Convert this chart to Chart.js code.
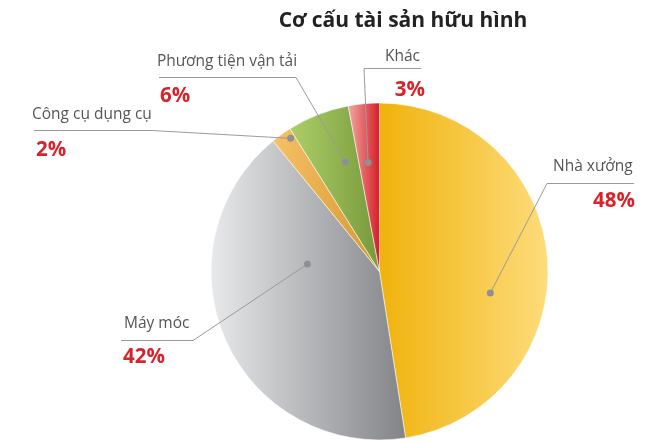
<!DOCTYPE html>
<html>
<head>
<meta charset="utf-8">
<script src="https://cdn.jsdelivr.net/npm/chart.js@4/dist/chart.umd.min.js"></script>
<style>
  html, body { margin: 0; padding: 0; background: #fff; }
  #wrap { width: 668px; height: 442px; position: relative; }
</style>
</head>
<body>
<div id="wrap"><canvas id="assetChart"></canvas></div>
<script>
const labels = ['Nhà xưởng', 'Máy móc', 'Công cụ dụng cụ', 'Phương tiện vận tải', 'Khác']
const shares = [48, 42, 2, 6, 3]

// left -> right colour of each slice
const sliceColors = [
  ['#F0B30C', '#FEDC7C'],
  ['#E8E9EB', '#828487'],
  ['#F7C168', '#D5982F'],
  ['#ADCF69', '#78993B'],
  ['#F3A7A7', '#D41F26']
]

// callout: where the dot sits inside the slice (share of the arc, share of radius),
// the text anchor and the elbow of the leader line
const callouts = [
  { t: 0.59, r: 0.67, line: [[634, 183], [547, 183]], x: 553, y: 167, px: 635, py: 201, align: 'right' },
  { t: 0.70, r: 0.43, line: [[121, 340], [193, 340]], x: 124, y: 324, px: 123, py: 357, align: 'left' },
  { t: 0.77, r: 0.95, line: [[34, 130], [152, 130]], x: 32, y: 115, px: 36, py: 150, align: 'left' },
  { t: 0.69, r: 0.68, line: [[159, 77], [296, 77]], x: 157, y: 62, px: 160, py: 96, align: 'left' },
  { t: 0.44, r: 0.65, line: [[421, 68], [364, 68]], x: 385, y: 57, px: 425, py: 90, align: 'right' }
]

const fontFamily = '"Open Sans", "Noto Sans", sans-serif'

const sliceGradients = {
  id: 'sliceGradients',
  beforeDatasetsDraw(chart) {
    const ctx = chart.ctx
    chart.getDatasetMeta(0).data.forEach((arc, i) => {
      let minX = arc.x, maxX = arc.x
      for (let k = 0; k <= 60; k++) {
        const a = arc.startAngle + (arc.endAngle - arc.startAngle) * k / 60
        const px = arc.x + arc.outerRadius * Math.cos(a)
        minX = Math.min(minX, px)
        maxX = Math.max(maxX, px)
      }
      const g = ctx.createLinearGradient(minX, 0, maxX, 0)
      g.addColorStop(0, sliceColors[i][0])
      g.addColorStop(1, sliceColors[i][1])
      arc.options.backgroundColor = g
    })
  }
}

const calloutLabels = {
  id: 'calloutLabels',
  afterDatasetsDraw(chart) {
    const ctx = chart.ctx
    ctx.save()
    // title
    ctx.fillStyle = '#222'
    ctx.font = 'bold 21px ' + fontFamily
    ctx.textAlign = 'center'
    ctx.textBaseline = 'middle'
    ctx.fillText('Cơ cấu tài sản hữu hình', 403, 21)

    chart.getDatasetMeta(0).data.forEach((arc, i) => {
      const c = callouts[i]
      const a = arc.startAngle + (arc.endAngle - arc.startAngle) * c.t
      const dx = arc.x + arc.outerRadius * c.r * Math.cos(a)
      const dy = arc.y + arc.outerRadius * c.r * Math.sin(a)

      ctx.strokeStyle = '#9b9b9b'
      ctx.lineWidth = 1
      ctx.beginPath()
      ctx.moveTo(c.line[0][0], c.line[0][1] + 0.5)
      ctx.lineTo(c.line[1][0], c.line[1][1] + 0.5)
      ctx.lineTo(dx, dy)
      ctx.stroke()

      ctx.fillStyle = '#8f9093'
      ctx.beginPath()
      ctx.arc(dx, dy, 3.5, 0, Math.PI * 2)
      ctx.fill()

      ctx.textBaseline = 'middle'
      ctx.textAlign = 'left'
      ctx.fillStyle = '#555'
      ctx.font = '15.5px ' + fontFamily
      ctx.fillText(labels[i], c.x, c.y)

      ctx.textAlign = c.align
      ctx.fillStyle = '#D8232A'
      ctx.font = 'bold 20.5px ' + fontFamily
      ctx.fillText(shares[i] + '%', c.px, c.py)
    })
    ctx.restore()
  }
}

new Chart(document.getElementById('assetChart'), {
  type: 'pie',
  data: {
    labels: labels,
    datasets: [{
      data: shares,
      backgroundColor: sliceColors.map(c => c[0]),
      borderColor: 'rgba(255,255,255,0.55)',
      borderWidth: 1
    }]
  },
  options: {
    responsive: true,
    maintainAspectRatio: false,
    animation: false,
    layout: { padding: { top: 102.5, bottom: 1.5, left: 120, right: 29 } },
    plugins: {
      legend: { display: false },
      tooltip: { enabled: false },
      title: { display: false }
    }
  },
  plugins: [sliceGradients, calloutLabels]
})
</script>
</body>
</html>
